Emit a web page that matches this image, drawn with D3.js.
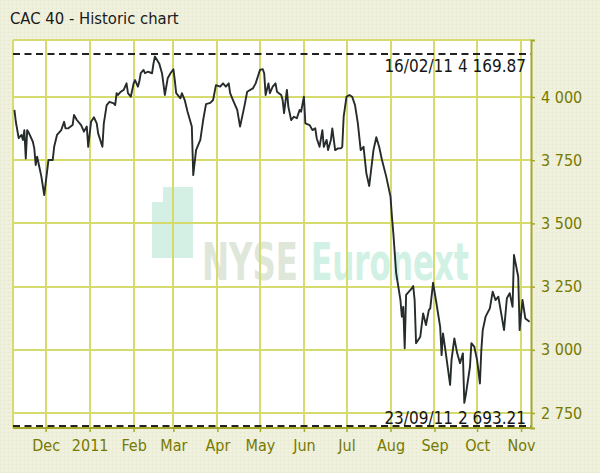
<!DOCTYPE html>
<html><head><meta charset="utf-8">
<script src="https://cdn.jsdelivr.net/npm/d3@7"></script>
<style>
html,body{margin:0;padding:0;background:#eef0dc;}
svg{display:block;}
text{font-family:"DejaVu Sans Condensed","DejaVu Sans",sans-serif;}
</style></head><body>
<svg id="chart" width="600" height="473"></svg>
<script>
const title = "CAC 40 - Historic chart";
const dates = ["2010-11-09","2010-11-10","2010-11-12","2010-11-14","2010-11-15","2010-11-16","2010-11-17","2010-11-18","2010-11-19","2010-11-22","2010-11-23","2010-11-24","2010-11-25","2010-11-26","2010-11-28","2010-11-30","2010-12-02","2010-12-03","2010-12-06","2010-12-07","2010-12-09","2010-12-12","2010-12-14","2010-12-15","2010-12-17","2010-12-20","2010-12-21","2010-12-23","2010-12-26","2010-12-28","2010-12-30","2010-12-31","2011-01-02","2011-01-04","2011-01-06","2011-01-07","2011-01-10","2011-01-11","2011-01-13","2011-01-15","2011-01-18","2011-01-19","2011-01-20","2011-01-21","2011-01-23","2011-01-25","2011-01-27","2011-01-28","2011-01-30","2011-02-01","2011-02-02","2011-02-04","2011-02-05","2011-02-06","2011-02-08","2011-02-09","2011-02-11","2011-02-14","2011-02-15","2011-02-16","2011-02-19","2011-02-21","2011-02-23","2011-02-25","2011-02-27","2011-03-01","2011-03-02","2011-03-03","2011-03-06","2011-03-07","2011-03-09","2011-03-11","2011-03-14","2011-03-15","2011-03-17","2011-03-20","2011-03-22","2011-03-24","2011-03-27","2011-03-29","2011-03-31","2011-04-03","2011-04-05","2011-04-07","2011-04-09","2011-04-10","2011-04-12","2011-04-15","2011-04-17","2011-04-20","2011-04-22","2011-04-26","2011-04-28","2011-05-01","2011-05-03","2011-05-04","2011-05-05","2011-05-07","2011-05-08","2011-05-10","2011-05-12","2011-05-13","2011-05-16","2011-05-17","2011-05-18","2011-05-20","2011-05-21","2011-05-23","2011-05-25","2011-05-27","2011-05-29","2011-05-30","2011-06-01","2011-06-02","2011-06-05","2011-06-07","2011-06-09","2011-06-10","2011-06-12","2011-06-14","2011-06-15","2011-06-17","2011-06-18","2011-06-20","2011-06-21","2011-06-23","2011-06-25","2011-06-27","2011-06-28","2011-06-29","2011-07-01","2011-07-03","2011-07-05","2011-07-07","2011-07-09","2011-07-11","2011-07-13","2011-07-15","2011-07-17","2011-07-20","2011-07-22","2011-07-24","2011-07-26","2011-07-29","2011-08-01","2011-08-02","2011-08-03","2011-08-05","2011-08-08","2011-08-09","2011-08-10","2011-08-11","2011-08-12","2011-08-16","2011-08-17","2011-08-18","2011-08-19","2011-08-22","2011-08-24","2011-08-26","2011-08-28","2011-08-29","2011-08-31","2011-09-02","2011-09-05","2011-09-06","2011-09-07","2011-09-09","2011-09-12","2011-09-13","2011-09-15","2011-09-17","2011-09-19","2011-09-21","2011-09-22","2011-09-23","2011-09-26","2011-09-27","2011-09-29","2011-10-01","2011-10-03","2011-10-04","2011-10-05","2011-10-07","2011-10-10","2011-10-12","2011-10-14","2011-10-16","2011-10-18","2011-10-20","2011-10-22","2011-10-24","2011-10-26","2011-10-27","2011-10-30","2011-10-31","2011-11-02","2011-11-04","2011-11-07"];
const closes = [3949,3902,3837,3850,3830,3869,3757,3869,3860,3823,3797,3731,3764,3738,3685,3612,3705,3751,3751,3803,3850,3869,3902,3876,3876,3889,3929,3909,3889,3863,3883,3803,3902,3920,3896,3856,3803,3896,3968,3981,3975,3968,4015,4008,4021,4028,4054,4015,4001,4054,4067,4041,4061,4094,4107,4094,4100,4094,4133,4160,4133,4094,4008,4074,4094,4110,4067,4015,3995,4015,3988,3942,3883,3691,3790,3830,3909,3972,3977,3988,4047,4041,4054,4041,4054,4015,3988,3949,3883,3962,4021,4034,4054,4107,4110,4094,4008,4054,4015,4041,4054,4021,4008,3988,3936,4028,3962,3909,3922,3916,3949,3942,4001,3896,3889,3869,3876,3837,3803,3869,3803,3830,3790,3830,3876,3790,3797,3797,3803,3922,4001,4008,4001,3968,3896,3790,3803,3698,3648,3790,3841,3803,3751,3685,3606,3527,3461,3303,3197,3131,3170,3006,3217,3243,3252,3197,3026,3052,3144,3098,3157,3164,3265,3197,3091,2979,3065,2986,2861,2960,3045,2986,2947,2986,2790,2820,2933,3026,3013,2960,2867,2999,3078,3131,3164,3230,3197,3210,3144,3078,3204,3224,3170,3375,3289,3078,3197,3124,3111];
const monthTicks = ["2010-12-01","2011-01-01","2011-02-01","2011-03-01","2011-04-01","2011-05-01","2011-06-01","2011-07-01","2011-08-01","2011-09-01","2011-10-01","2011-11-01"];
const valueTicks = [2750,3000,3250,3500,3750,4000];
const highDate = "16/02/11", highValue = 4169.87;
const lowDate = "23/09/11", lowValue = 2693.21;
const watermarkWords = ["NYSE","Euronext"];

const svg = d3.select("#chart");
const W = 600, H = 473;
const plot = {left:13, right:531, top:40, bottom:428};
const parse = d3.utcParse("%Y-%m-%d");
const data = dates.map((d,i)=>({date:parse(d), value:closes[i]}));
const loc = d3.formatLocale({decimal:".", thousands:" ", grouping:[3], currency:["",""]});

const x = d3.scaleUtc().domain([parse("2010-11-08"), parse("2011-11-08")]).range([plot.left, plot.right]);
const y = d3.scaleLinear().domain([2690.7, 4225.5]).range([plot.bottom, plot.top]);

// textured page background
const defs = svg.append("defs");
const pat = defs.append("pattern").attr("id","tex").attr("width",4).attr("height",4)
  .attr("patternUnits","userSpaceOnUse");
pat.append("rect").attr("width",4).attr("height",4).attr("fill","#eef0dc");
pat.append("rect").attr("x",0).attr("y",0).attr("width",1).attr("height",1).attr("fill","#e3e6c8");
pat.append("rect").attr("x",2).attr("y",2).attr("width",1).attr("height",1).attr("fill","#f5f6e8");
svg.append("rect").attr("width",W).attr("height",H).attr("fill","url(#tex)");
svg.append("rect").attr("x",plot.left).attr("y",plot.top)
  .attr("width",plot.right-plot.left).attr("height",plot.bottom-plot.top).attr("fill","#ffffff");

// watermark
const wm = svg.append("g").attr("opacity",0.85);
wm.append("path")
  .attr("d","M163,187 H193 V258 H152 V202 H163 Z")
  .attr("fill","#cdeee0");
function squeezedText(g, str, x0, y0, target, fill){
  const t = g.append("text").attr("font-size",52).attr("font-weight","bold")
    .attr("fill",fill).text(str);
  const w = t.node().getComputedTextLength();
  t.attr("transform",`translate(${x0},${y0}) scale(${target/w},1)`);
}
squeezedText(wm, watermarkWords[0], 202, 280, 96, "#d9e3d4");
squeezedText(wm, watermarkWords[1], 311, 280, 158, "#c9efe0");

// grid
const grid = svg.append("g").attr("stroke","#d6db6e").attr("stroke-width",2);
grid.selectAll("line.h").data(valueTicks).join("line")
  .attr("x1",plot.left).attr("x2",plot.right)
  .attr("y1",d=>Math.round(y(d))).attr("y2",d=>Math.round(y(d)));
grid.selectAll("line.v").data(monthTicks.map(parse)).join("line")
  .attr("y1",plot.top).attr("y2",plot.bottom)
  .attr("x1",d=>Math.round(x(d))).attr("x2",d=>Math.round(x(d)));
grid.append("line").attr("x1",plot.left).attr("x2",plot.right).attr("y1",plot.top).attr("y2",plot.top);
grid.append("line").attr("x1",plot.left).attr("x2",plot.left).attr("y1",plot.top).attr("y2",plot.bottom);

// extreme dashed lines
const ext = svg.append("g");
[highValue, lowValue].forEach(v=>{
  ext.append("line").attr("x1",plot.left).attr("x2",plot.right)
    .attr("y1",Math.min(y(v),426)).attr("y2",Math.min(y(v),426))
    .attr("stroke","#222").attr("stroke-width",2).attr("stroke-dasharray","7,4.5");
});

// price line
const line = d3.line().x(d=>x(d.date)).y(d=>y(d.value));
svg.append("path").datum(data).attr("d",line)
  .attr("fill","none").attr("stroke","#262b2b").attr("stroke-width",1.9)
  .attr("stroke-linejoin","round");

// annotations
ext.append("text").attr("x",526).attr("y",y(highValue)+18)
  .attr("text-anchor","end").attr("font-size",17).attr("fill","#151515")
  .text(highDate + " " + loc.format(",.2f")(highValue));
ext.append("text").attr("x",526).attr("y",y(lowValue)-3)
  .attr("text-anchor","end").attr("font-size",17).attr("fill","#151515")
  .text(lowDate + " " + loc.format(",.2f")(lowValue));

// axes
const axisColor = "#a4a92c", labelColor = "#777900";
const yAxis = svg.append("g").attr("transform",`translate(${plot.right},0)`)
  .call(d3.axisRight(y).tickValues(valueTicks).tickSize(4).tickPadding(6).tickFormat(loc.format(",")));
const xAxis = svg.append("g").attr("transform",`translate(0,${plot.bottom})`)
  .call(d3.axisBottom(x).tickValues(monthTicks.map(parse)).tickSize(4).tickPadding(8)
    .tickFormat(d=> d.getUTCMonth()===0 ? d3.utcFormat("%Y")(d) : d3.utcFormat("%b")(d)));
[yAxis,xAxis].forEach(a=>{
  a.select(".domain").attr("stroke",axisColor).attr("stroke-width",2);
  a.selectAll(".tick line").attr("stroke",axisColor).attr("stroke-width",1.5);
  a.selectAll("text").attr("font-size",16).attr("fill",labelColor)
    .attr("font-family","DejaVu Sans Condensed, DejaVu Sans, sans-serif");
});
xAxis.select(".domain").attr("d",`M${plot.left},0H${plot.right}`);

svg.append("text").attr("x",10).attr("y",24).attr("font-size",16.5).attr("fill","#1a1a1a").text(title);
</script>
</body></html>
